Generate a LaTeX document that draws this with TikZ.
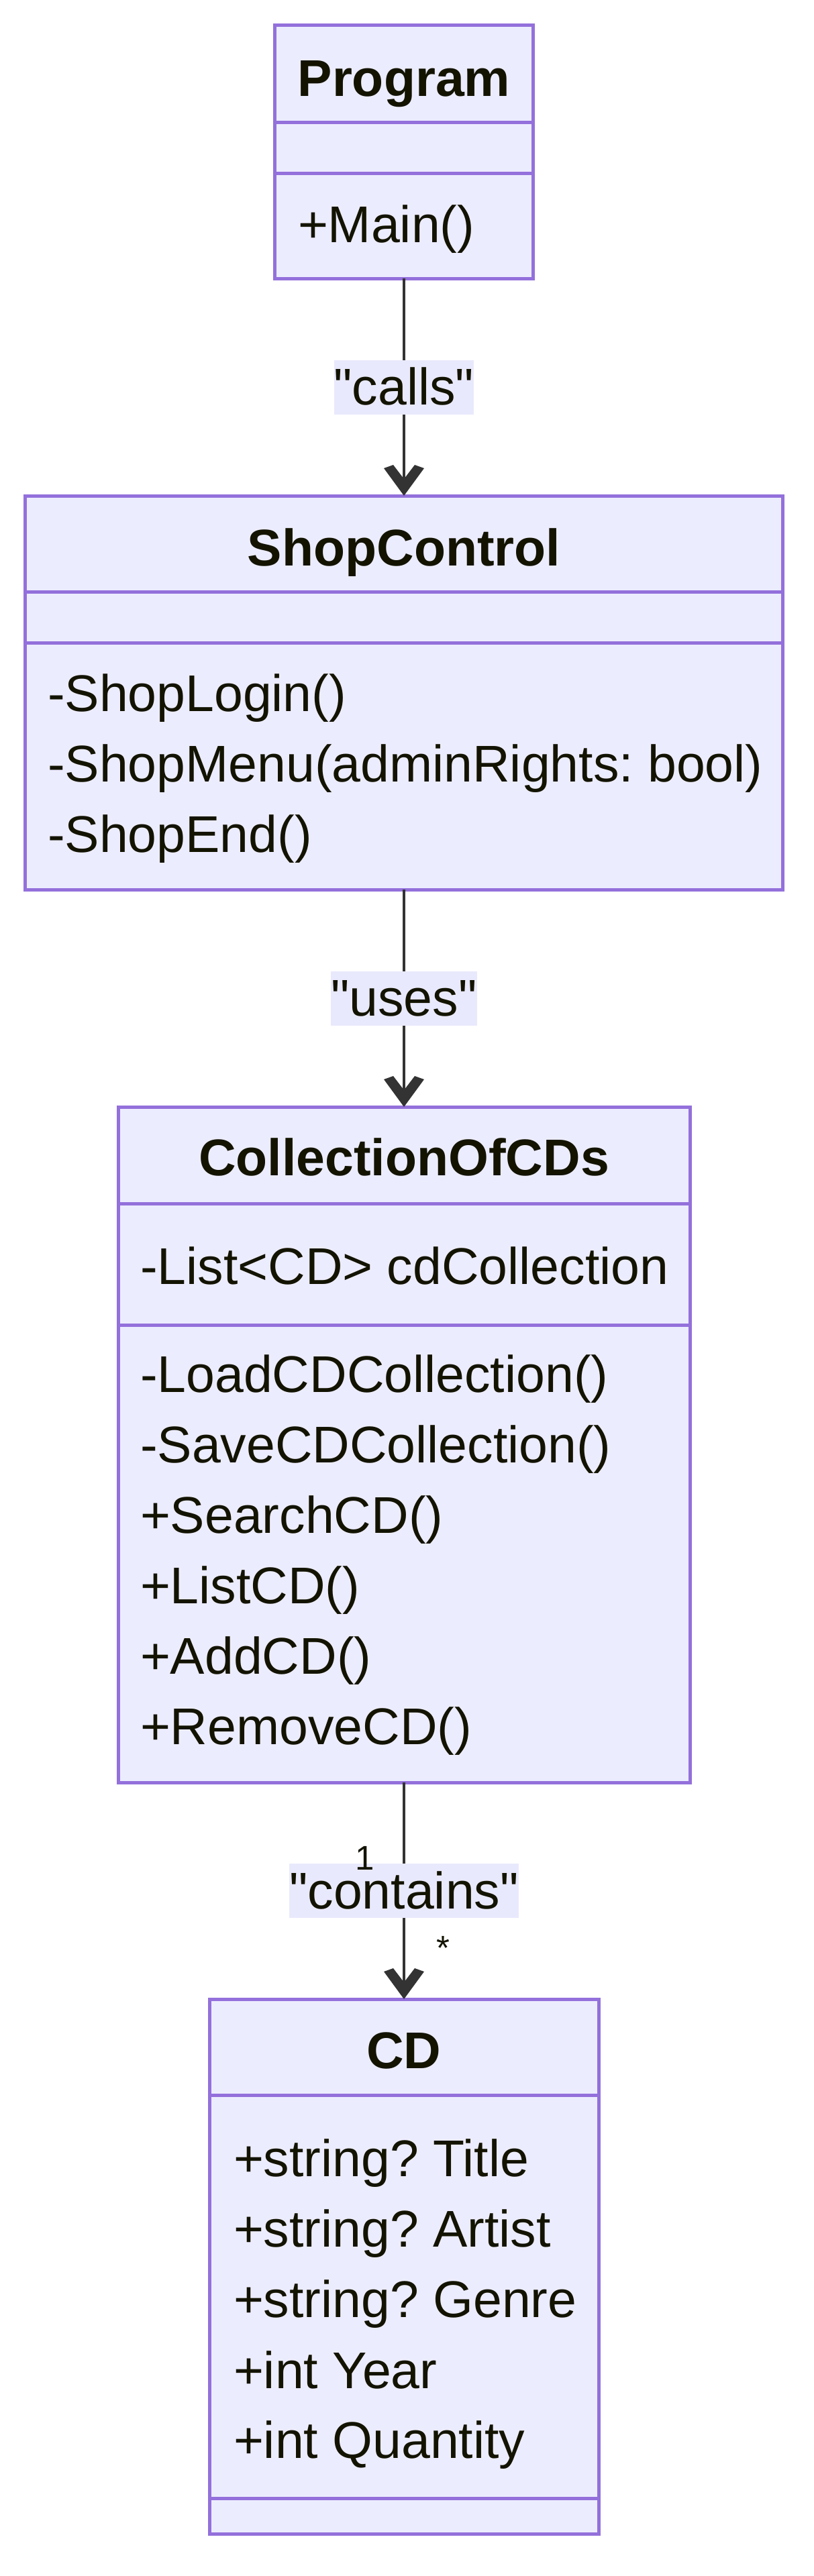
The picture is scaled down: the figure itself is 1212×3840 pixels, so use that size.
\documentclass[tikz,border=0pt]{standalone}
\usepackage{fontspec}
\setmainfont{Liberation Sans}[Ligatures=TeXOff]
\usetikzlibrary{arrows.meta}
\definecolor{umlfill}{HTML}{ECECFF}
\definecolor{umlborder}{HTML}{9370DB}
\definecolor{umltext}{HTML}{131300}
\definecolor{arrowc}{HTML}{333333}
\definecolor{lblbg}{HTML}{E9E9FD}
\pgfdeclarearrow{
  name = UMLV,
  setup code = {
    \pgfarrowssettipend{0pt}
    \pgfarrowssetlineend{-12pt}
    \pgfarrowssetbackend{-23pt}
    \pgfarrowshullpoint{0pt}{0pt}
    \pgfarrowsupperhullpoint{-23pt}{15pt}
  },
  drawing code = {
    \pgfsetfillcolor{arrowc}
    \pgfpathmoveto{\pgfqpoint{0pt}{0pt}}
    \pgfpathlineto{\pgfqpoint{-20.5pt}{15pt}}
    \pgfpathlineto{\pgfqpoint{-23pt}{8pt}}
    \pgfpathlineto{\pgfqpoint{-12.5pt}{0pt}}
    \pgfpathlineto{\pgfqpoint{-23pt}{-8pt}}
    \pgfpathlineto{\pgfqpoint{-20.5pt}{-15pt}}
    \pgfpathclose
    \pgfusepathqfill
  },
}
\tikzset{
  classbox/.style={draw=umlborder, fill=umlfill, line width=2.5pt, inner sep=0pt, outer sep=0pt, anchor=north, rectangle},
  sepline/.style={draw=umlborder, line width=2.5pt},
  member/.style={anchor=base west, inner sep=0pt, outer sep=0pt, text=umltext, font=\fontsize{38.5pt}{46pt}\selectfont\frenchspacing},
  classtitle/.style={anchor=base, inner sep=0pt, outer sep=0pt, text=umltext, font=\fontsize{38.5pt}{46pt}\selectfont\bfseries},
  elabel/.style={fill=lblbg, inner sep=0pt, outer sep=0pt, text=umltext, text height=33.5pt, text depth=7pt, font=\fontsize{38.5pt}{46pt}\selectfont, pos=0.5},
  card/.style={anchor=base, inner sep=0pt, outer sep=0pt, text=umltext, font=\fontsize{25.5pt}{30pt}\selectfont},
  rel/.style={draw=arrowc, line width=1.65pt, -UMLV},
}
\begin{document}
\frenchspacing
\begin{tikzpicture}[x=0.5pt,y=-0.5pt]
\fill[white] (0,0) rectangle (1212,3840);
\path[use as bounding box] (0,0) rectangle (1212,3840);

% ---------- Program ----------
\node[classbox, minimum width=192.5pt, minimum height=189pt] (program) at (602,37) {};
\draw[sepline] (program.west |- 0,182) -- (program.east |- 0,182);
\draw[sepline] (program.west |- 0,258) -- (program.east |- 0,258);
\node[classtitle] (programT) at (602,143) {Program};
\node[member] (programM1) at (444,361) {+Main()};

% ---------- ShopControl ----------
\node[classbox, minimum width=564.5pt, minimum height=293.5pt] (shop) at (602,739) {};
\draw[sepline] (shop.west |- 0,882) -- (shop.east |- 0,882);
\draw[sepline] (shop.west |- 0,958) -- (shop.east |- 0,958);
\node[classtitle] (shopT) at (602,843) {ShopControl};
\node[member] (shopM1) at (71,1060) {-ShopLogin()};
\node[member] (shopM2) at (71,1165) {-ShopMenu(adminRights: bool)};
\node[member] (shopM3) at (71,1270) {-ShopEnd()};

% ---------- CollectionOfCDs ----------
\node[classbox, minimum width=426pt, minimum height=503.5pt] (coll) at (602,1650) {};
\draw[sepline] (coll.west |- 0,1794) -- (coll.east |- 0,1794);
\draw[sepline] (coll.west |- 0,1975) -- (coll.east |- 0,1975);
\node[classtitle] (collT) at (602,1752) {CollectionOfCDs};
\node[member] (collA1) at (209,1914) {-List<CD> cdCollection};
\node[member] (collM1) at (209,2075) {-LoadCDCollection()};
\node[member] (collM2) at (209,2180) {-SaveCDCollection()};
\node[member] (collM3) at (209,2285) {+SearchCD()};
\node[member] (collM4) at (209,2390) {+ListCD()};
\node[member] (collM5) at (209,2495) {+AddCD()};
\node[member] (collM6) at (209,2600) {+RemoveCD()};

% ---------- CD ----------
\node[classbox, minimum width=290pt, minimum height=398.5pt] (cd) at (602,2980) {};
\draw[sepline] (cd.west |- 0,3123) -- (cd.east |- 0,3123);
\draw[sepline] (cd.west |- 0,3724) -- (cd.east |- 0,3724);
\node[classtitle] (cdT) at (602,3083) {CD};
\node[member] (cdA1) at (348,3244) {+string? Title};
\node[member] (cdA2) at (348,3349) {+string? Artist};
\node[member] (cdA3) at (348,3454) {+string? Genre};
\node[member] (cdA4) at (348,3560) {+int Year};
\node[member] (cdA5) at (348,3664) {+int Quantity};

% ---------- Relations ----------
\draw[rel] (program.south) -- node[elabel] (lcalls) {"calls"} (shop.north);
\draw[rel] (shop.south) -- node[elabel] (luses) {"uses"} (coll.north);
\draw[rel] (coll.south) -- node[elabel] (lcontains) {"contains"} (cd.north);
\node[card] (card1) at (544,2787) {1};
\node[card] (cardm) at (660,2921) {*};
\end{tikzpicture}
\end{document}
